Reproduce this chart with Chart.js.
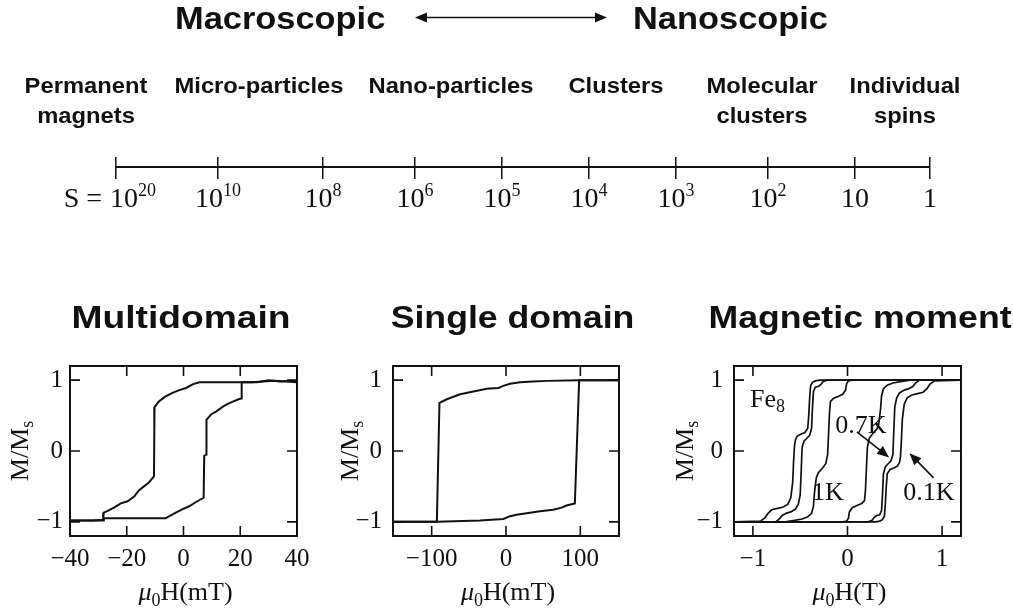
<!DOCTYPE html>
<html>
<head>
<meta charset="utf-8">
<script src="https://cdn.jsdelivr.net/npm/chart.js@4.4.0/dist/chart.umd.min.js"></script>
<style>
  html, body { margin: 0; padding: 0; background: #fff; width: 1013px; height: 614px; overflow: hidden; }
  canvas { position: absolute; display: block; }
</style>
</head>
<body>
<canvas id="sizeScale" width="1013" height="240" style="left:0;top:0"></canvas>
<canvas id="multiLoop" width="335" height="324" style="left:0;top:290px"></canvas>
<canvas id="singleLoop" width="325" height="324" style="left:335px;top:290px"></canvas>
<canvas id="fe8Loop" width="353" height="324" style="left:660px;top:290px"></canvas>
<script>
// ---- size scale: number of spins S, from bulk magnets down to single spins ----
const sizeBase = ['10', '10', '10', '10', '10', '10', '10', '10', '10', '1'];
const sizeExp = ['20', '10', '8', '6', '5', '4', '3', '2', '', ''];
const sizeAxisPos = [0, 10.2, 20.7, 29.9, 38.6, 47.3, 56.0, 65.2, 73.9, 81.4];
const regimeNames = [['Permanent', 'magnets'], ['Micro-particles'], ['Nano-particles'], ['Clusters'], ['Molecular', 'clusters'], ['Individual', 'spins']];
const regimePos = [-3.0, 14.3, 33.5, 50.0, 64.6, 78.9];

// ---- hysteresis loops (field, reduced magnetisation M/Ms) ----
const loopTicksY = [-1, 0, 1];

// multidomain particle, field in mT
const multiTicksX = [-40, -20, 0, 20, 40];
const multiDownH = [40, 36, 32, 28, 24, 20, 12, 5.6, 3.2, 0.9, -1.5, -3.9, -6.3, -8.7, -10.2, -10.3, -10.4, -12.3, -14.6, -15.8, -17.3, -19.7, -22.1, -24.5, -26.9, -28.1, -28.3, -32, -40];
const multiDownM = [0.97, 0.98, 0.99, 0.98, 0.97, 0.97, 0.97, 0.97, 0.94, 0.89, 0.86, 0.82, 0.77, 0.70, 0.62, 0.20, -0.36, -0.45, -0.52, -0.56, -0.64, -0.71, -0.74, -0.80, -0.85, -0.87, -0.97, -0.98, -0.98];
const multiUpH = [-40, -28.3, -28.1, -20, -12, -8.7, -6.3, -4.5, -2.7, -0.3, 2.0, 4.4, 7.1, 7.3, 8.0, 8.1, 9.8, 11.6, 14.0, 15.8, 17.6, 19.4, 20.3, 20.5, 26, 30, 34, 38, 40];
const multiUpM = [-0.98, -0.98, -0.95, -0.95, -0.95, -0.95, -0.95, -0.91, -0.87, -0.82, -0.78, -0.72, -0.66, -0.07, -0.05, 0.44, 0.52, 0.56, 0.63, 0.67, 0.70, 0.73, 0.74, 0.97, 0.97, 1.0, 0.98, 0.99, 0.97];

// single-domain particle, field in mT
const singleTicksX = [-100, 0, 100];
const singleDownH = [152, 99, 54.6, 36.7, 18.8, 5.4, -3.6, -10.3, -26, -43.9, -61.7, -79.6, -89.5, -93, -120, -152];
const singleDownM = [1.0, 1.0, 0.99, 0.98, 0.97, 0.95, 0.92, 0.89, 0.88, 0.84, 0.80, 0.73, 0.68, -1.0, -1.0, -1.0];
const singleUpH = [-152, -93, -34.9, -3.6, 5.4, 14.3, 27.7, 45.6, 63.5, 74.7, 81.4, 92.6, 98.4, 120, 152];
const singleUpM = [-1.0, -1.0, -0.98, -0.96, -0.92, -0.90, -0.88, -0.85, -0.83, -0.80, -0.77, -0.74, 1.0, 1.0, 1.0];

// Fe8 molecular cluster, field in T, three temperatures
const fe8TicksX = [-1, 0, 1];
const fe8Down1K_H = [1.2, 0.05, 0.01, -0.01, -0.02, -0.05, -0.10, -0.15, -0.18, -0.19, -0.20, -0.21, -0.23, -0.27, -0.31, -0.33, -0.35, -0.36, -0.38, -0.42, -0.48, -0.56, -0.66, -1.2];
const fe8Down1K_M = [1.0, 1.0, 0.99, 0.95, 0.86, 0.80, 0.77, 0.74, 0.70, 0.55, 0.25, -0.05, -0.18, -0.25, -0.31, -0.38, -0.60, -0.78, -0.88, -0.93, -0.96, -0.98, -1.0, -1.0];
const fe8Up1K_H = [-1.2, -0.05, -0.01, 0.01, 0.02, 0.05, 0.10, 0.15, 0.18, 0.19, 0.20, 0.21, 0.23, 0.27, 0.31, 0.33, 0.35, 0.36, 0.38, 0.42, 0.48, 0.56, 0.66, 1.2];
const fe8Up1K_M = [-1.0, -1.0, -0.99, -0.95, -0.86, -0.80, -0.77, -0.74, -0.70, -0.55, -0.25, 0.05, 0.18, 0.25, 0.31, 0.38, 0.60, 0.78, 0.88, 0.93, 0.96, 0.98, 1.0, 1.0];
const fe8Down07K_H = [1.2, -0.22, -0.26, -0.28, -0.31, -0.34, -0.36, -0.37, -0.38, -0.40, -0.43, -0.46, -0.48, -0.49, -0.50, -0.52, -0.55, -0.60, -0.65, -0.69, -0.72, -0.76, -1.2];
const fe8Down07K_M = [1.0, 1.0, 0.98, 0.94, 0.91, 0.90, 0.84, 0.62, 0.32, 0.22, 0.18, 0.14, 0.05, -0.30, -0.62, -0.75, -0.82, -0.86, -0.88, -0.91, -0.96, -1.0, -1.0];
const fe8Up07K_H = [-1.2, 0.22, 0.26, 0.28, 0.31, 0.34, 0.36, 0.37, 0.38, 0.40, 0.43, 0.46, 0.48, 0.49, 0.50, 0.52, 0.55, 0.60, 0.65, 0.69, 0.72, 0.76, 1.2];
const fe8Up07K_M = [-1.0, -1.0, -0.98, -0.94, -0.91, -0.90, -0.84, -0.62, -0.32, -0.22, -0.18, -0.14, -0.05, 0.30, 0.62, 0.75, 0.82, 0.86, 0.88, 0.91, 0.96, 1.0, 1.0];
const fe8Down01K_H = [1.2, -0.30, -0.34, -0.37, -0.39, -0.40, -0.41, -0.42, -0.45, -0.49, -0.53, -0.55, -0.56, -0.57, -0.58, -0.60, -0.63, -0.68, -0.74, -0.80, -0.84, -0.87, -0.92, -1.2];
const fe8Down01K_M = [1.0, 1.0, 0.99, 0.97, 0.92, 0.75, 0.50, 0.32, 0.26, 0.24, 0.21, 0.16, 0.08, -0.15, -0.45, -0.66, -0.75, -0.79, -0.81, -0.83, -0.88, -0.94, -0.99, -1.0];
const fe8Up01K_H = [-1.2, 0.30, 0.34, 0.37, 0.39, 0.40, 0.41, 0.42, 0.45, 0.49, 0.53, 0.55, 0.56, 0.57, 0.58, 0.60, 0.63, 0.68, 0.74, 0.80, 0.84, 0.87, 0.92, 1.2];
const fe8Up01K_M = [-1.0, -1.0, -0.99, -0.97, -0.92, -0.75, -0.50, -0.32, -0.26, -0.24, -0.21, -0.16, -0.08, 0.15, 0.45, 0.66, 0.75, 0.79, 0.81, 0.83, 0.88, 0.94, 0.99, 1.0];

// temperature tags and pointer arrows inside the Fe8 panel (data coordinates)
const fe8Tags = [
  { text: '0.7K', h: -0.13, m: 0.255 },
  { text: '1K', h: -0.375, m: -0.69 },
  { text: '0.1K', h: 0.59, m: -0.69 }
];
const fe8Pointers = [
  { from: [0.10, 0.27], to: [0.44, -0.09] },
  { from: [0.91, -0.38], to: [0.655, -0.03] }
];

const INK = '#111';
const SERIF = '"Liberation Serif", "DejaVu Serif", serif';
const SANS = '"Liberation Sans", Arial, sans-serif';

function pts(hs, ms) { return hs.map((h, i) => ({ x: h, y: ms[i] })); }

function wideText(ctx, text, x, y, font, sx, align) {
  ctx.save();
  ctx.font = font;
  ctx.textBaseline = 'alphabetic';
  ctx.textAlign = 'left';
  const w = ctx.measureText(text).width * sx;
  const left = align === 'center' ? x - w / 2 : (align === 'right' ? x - w : x);
  ctx.translate(left, y);
  ctx.scale(sx, 1);
  ctx.fillText(text, 0, 0);
  ctx.restore();
}

function arrowHead(ctx, x1, y1, x2, y2, len, half) {
  const a = Math.atan2(y2 - y1, x2 - x1);
  ctx.beginPath();
  ctx.moveTo(x2, y2);
  ctx.lineTo(x2 - len * Math.cos(a) + half * Math.sin(a), y2 - len * Math.sin(a) - half * Math.cos(a));
  ctx.lineTo(x2 - len * Math.cos(a) - half * Math.sin(a), y2 - len * Math.sin(a) + half * Math.cos(a));
  ctx.closePath();
  ctx.fill();
}

// ---------- size scale ----------
const sizeDecor = {
  id: 'sizeDecor',
  afterDraw(chart) {
    const ctx = chart.ctx;
    const xs = chart.scales.x;
    ctx.save();
    ctx.fillStyle = INK;
    ctx.strokeStyle = INK;

    // heading: Macroscopic <-> Nanoscopic
    const head = 'bold 32px ' + SANS;
    wideText(ctx, 'Macroscopic', 175, 29, head, 1.075, 'left');
    wideText(ctx, 'Nanoscopic', 633, 29, head, 1.075, 'left');
    ctx.lineWidth = 1.6;
    ctx.beginPath();
    ctx.moveTo(420, 17.5);
    ctx.lineTo(602, 17.5);
    ctx.stroke();
    arrowHead(ctx, 500, 17.5, 415, 17.5, 12, 5);
    arrowHead(ctx, 500, 17.5, 607, 17.5, 12, 5);

    // regime names above the scale
    const reg = 'bold 22px ' + SANS;
    regimeNames.forEach((lines, i) => {
      const px = xs.getPixelForValue(regimePos[i]);
      lines.forEach((ln, j) => wideText(ctx, ln, px, 93 + j * 30, reg, 1.08, 'center'));
    });

    // S values under the ticks
    const baseFont = '28px ' + SERIF;
    const expFont = '18px ' + SERIF;
    const baseY = 207, expY = 196;
    sizeAxisPos.forEach((p, i) => {
      const px = xs.getPixelForValue(p);
      ctx.font = baseFont;
      const wb = ctx.measureText(sizeBase[i]).width;
      ctx.font = expFont;
      const we = sizeExp[i] ? ctx.measureText(sizeExp[i]).width : 0;
      const left = i === 0 ? px - 6 : px - (wb + we) / 2;
      ctx.textAlign = 'left';
      ctx.textBaseline = 'alphabetic';
      ctx.font = baseFont;
      ctx.fillText(sizeBase[i], left, baseY);
      if (sizeExp[i]) {
        ctx.font = expFont;
        ctx.fillText(sizeExp[i], left + wb, expY);
      }
      if (i === 0) {
        ctx.font = baseFont;
        ctx.textAlign = 'right';
        ctx.fillText('S =', left - 8, baseY);
      }
    });
    ctx.restore();
  }
};

new Chart(document.getElementById('sizeScale'), {
  type: 'scatter',
  data: {
    datasets: [{
      data: [{ x: sizeAxisPos[0], y: 0 }, { x: sizeAxisPos[sizeAxisPos.length - 1], y: 0 }],
      showLine: true, borderColor: INK, borderWidth: 2, pointRadius: 0
    }]
  },
  options: {
    responsive: false, animation: false, devicePixelRatio: 1,
    layout: { padding: { top: 157, bottom: 61, left: 0, right: 0 } },
    plugins: { legend: { display: false }, tooltip: { enabled: false } },
    scales: {
      x: {
        type: 'linear', min: -11.6, max: 89.7,
        grid: { display: true, drawOnChartArea: true, drawTicks: false, color: INK, lineWidth: 1.5 },
        border: { display: false },
        ticks: { display: false },
        afterBuildTicks: s => { s.ticks = sizeAxisPos.map(v => ({ value: v })); },
        afterFit: s => { s.height = 0; }
      },
      y: { display: false, min: -1.1, max: 0.9 }
    }
  },
  plugins: [sizeDecor]
});

// ---------- hysteresis panels ----------
const loopDecor = {
  id: 'loopDecor',
  afterDraw(chart, args, o) {
    const { ctx, chartArea: a } = chart;
    const xs = chart.scales.x, ys = chart.scales.y;
    ctx.save();
    ctx.strokeStyle = INK;
    ctx.fillStyle = INK;

    // frame and inward ticks on all four sides
    ctx.lineWidth = 2;
    ctx.strokeRect(a.left, a.top, a.right - a.left, a.bottom - a.top);
    ctx.lineWidth = 1.6;
    ctx.beginPath();
    xs.ticks.forEach(t => {
      const px = xs.getPixelForValue(t.value);
      ctx.moveTo(px, a.bottom); ctx.lineTo(px, a.bottom - 10);
      ctx.moveTo(px, a.top); ctx.lineTo(px, a.top + 10);
    });
    ys.ticks.forEach(t => {
      const py = ys.getPixelForValue(t.value);
      ctx.moveTo(a.left, py); ctx.lineTo(a.left + 10, py);
      ctx.moveTo(a.right, py); ctx.lineTo(a.right - 10, py);
    });
    ctx.stroke();

    // panel heading
    wideText(ctx, o.title, o.titleX, 38, 'bold 31px ' + SANS, o.titleSx, 'center');

    // y title: M/Ms, rotated
    const big = '26px ' + SERIF, small = '18px ' + SERIF;
    ctx.save();
    ctx.translate(o.yTitleX, (a.top + a.bottom) / 2);
    ctx.rotate(-Math.PI / 2);
    ctx.textAlign = 'left';
    ctx.textBaseline = 'alphabetic';
    ctx.font = big;
    const w1 = ctx.measureText('M/M').width;
    ctx.font = small;
    const w2 = ctx.measureText('s').width;
    const s0 = -(w1 + w2) / 2;
    ctx.font = big;
    ctx.fillText('M/M', s0, 0);
    ctx.font = small;
    ctx.fillText('s', s0 + w1, 5);
    ctx.restore();

    // x title: mu0 H (unit)
    ctx.textAlign = 'left';
    ctx.textBaseline = 'alphabetic';
    const mu = 'italic 26px ' + SERIF;
    const rest = 'H(' + o.unit + ')';
    ctx.font = mu;
    const wm = ctx.measureText('\u03BC').width;
    ctx.font = small;
    const w0 = ctx.measureText('0').width;
    ctx.font = big;
    const wr = ctx.measureText(rest).width;
    let xl = (a.left + a.right) / 2 + 2 - (wm + w0 + wr) / 2;
    const by = 310;
    ctx.font = mu; ctx.fillText('\u03BC', xl, by); xl += wm;
    ctx.font = small; ctx.fillText('0', xl, by + 6); xl += w0;
    ctx.font = big; ctx.fillText(rest, xl, by);

    // in-panel tags and pointers
    if (o.fe8) {
      const fx = xs.getPixelForValue(-1.03), fy = ys.getPixelForValue(0.62);
      ctx.font = big; ctx.fillText('Fe', fx, fy);
      const wf = ctx.measureText('Fe').width;
      ctx.font = small; ctx.fillText('8', fx + wf, fy + 5);
      ctx.font = big;
      fe8Tags.forEach(t => ctx.fillText(t.text, xs.getPixelForValue(t.h), ys.getPixelForValue(t.m)));
      ctx.lineWidth = 1.6;
      fe8Pointers.forEach(p => {
        const x1 = xs.getPixelForValue(p.from[0]), y1 = ys.getPixelForValue(p.from[1]);
        const x2 = xs.getPixelForValue(p.to[0]), y2 = ys.getPixelForValue(p.to[1]);
        const ang = Math.atan2(y2 - y1, x2 - x1);
        ctx.beginPath();
        ctx.moveTo(x1, y1);
        ctx.lineTo(x2 - 8 * Math.cos(ang), y2 - 8 * Math.sin(ang));
        ctx.stroke();
        arrowHead(ctx, x1, y1, x2, y2, 12, 5);
      });
    }
    ctx.restore();
  }
};

function curve(data, width) {
  return { data, showLine: true, borderColor: INK, borderWidth: width, pointRadius: 0, tension: 0, fill: false };
}

function loopChart(id, datasets, cfg) {
  const minus = v => String(v).replace('-', '\u2212');
  return new Chart(document.getElementById(id), {
    type: 'scatter',
    data: { datasets },
    options: {
      responsive: false, animation: false, devicePixelRatio: 1,
      layout: { padding: { top: 76, bottom: 38, left: cfg.padLeft, right: cfg.padRight } },
      plugins: { legend: { display: false }, tooltip: { enabled: false }, loopDecor: cfg.decor },
      scales: {
        x: {
          type: 'linear', min: cfg.xMin, max: cfg.xMax,
          grid: { display: false, drawTicks: false },
          border: { display: false },
          ticks: { color: INK, font: { family: SERIF, size: 25 }, padding: 8, autoSkip: false, maxRotation: 0, callback: minus },
          afterBuildTicks: s => { s.ticks = cfg.ticksX.map(v => ({ value: v })); },
          afterFit: s => { s.height = 40; }
        },
        y: {
          type: 'linear', min: -1.2, max: 1.2,
          grid: { display: false, drawTicks: false },
          border: { display: false },
          ticks: { color: INK, font: { family: SERIF, size: 25 }, padding: cfg.yPad, callback: minus },
          afterBuildTicks: s => { s.ticks = loopTicksY.map(v => ({ value: v })); },
          afterFit: s => { s.width = 40; }
        }
      }
    },
    plugins: [loopDecor]
  });
}

loopChart('multiLoop', [
  curve(pts(multiDownH, multiDownM), 2),
  curve(pts(multiUpH, multiUpM), 2)
], {
  xMin: -40, xMax: 40, ticksX: multiTicksX, padLeft: 30, padRight: 38, yPad: 7,
  decor: { title: 'Multidomain', titleX: 181, titleSx: 1.2, yTitleX: 28, unit: 'mT' }
});

loopChart('singleLoop', [
  curve(pts(singleDownH, singleDownM), 2),
  curve(pts(singleUpH, singleUpM), 2)
], {
  xMin: -152, xMax: 152, ticksX: singleTicksX, padLeft: 18, padRight: 41, yPad: 11,
  decor: { title: 'Single domain', titleX: 177.5, titleSx: 1.15, yTitleX: 23, unit: 'mT' }
});

loopChart('fe8Loop', [
  curve(pts(fe8Down1K_H, fe8Down1K_M), 1.7),
  curve(pts(fe8Up1K_H, fe8Up1K_M), 1.7),
  curve(pts(fe8Down07K_H, fe8Down07K_M), 1.7),
  curve(pts(fe8Up07K_H, fe8Up07K_M), 1.7),
  curve(pts(fe8Down01K_H, fe8Down01K_M), 1.7),
  curve(pts(fe8Up01K_H, fe8Up01K_M), 1.7)
], {
  xMin: -1.2, xMax: 1.2, ticksX: fe8TicksX, padLeft: 34, padRight: 52, yPad: 11,
  decor: { title: 'Magnetic moment', titleX: 200, titleSx: 1.15, yTitleX: 33, unit: 'T', fe8: true }
});
</script>
</body>
</html>
